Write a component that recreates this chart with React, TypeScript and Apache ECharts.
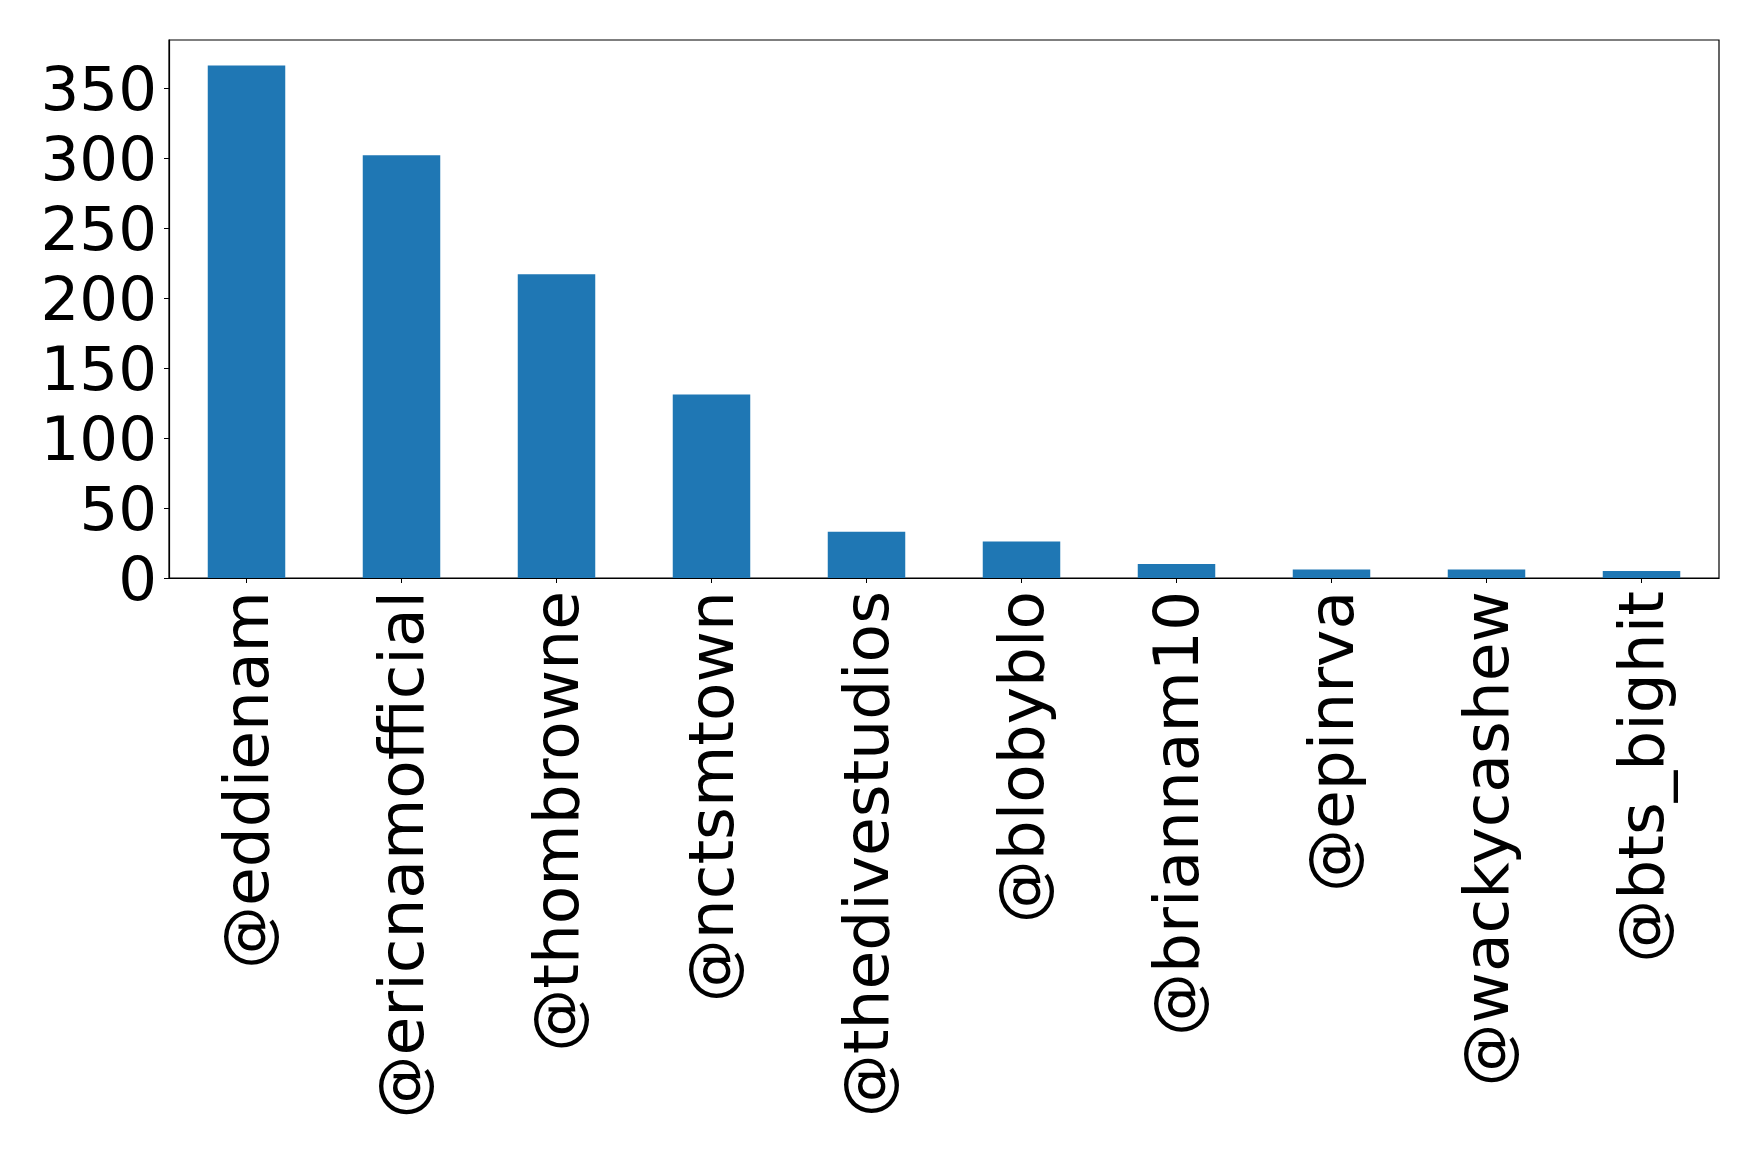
import React, { useEffect, useRef } from "react";
import * as echarts from "echarts";

const categories = [
  "@eddienam",
  "@ericnamofficial",
  "@thombrowne",
  "@nctsmtown",
  "@thedivestudios",
  "@blobyblo",
  "@briannam10",
  "@epinrva",
  "@wackycashew",
  "@bts_bighit",
];
const values = [366, 302, 217, 131, 33, 26, 10, 6, 6, 5];
const yTicks = [0, 50, 100, 150, 200, 250, 300, 350];

export default function App() {
  const ref = useRef<HTMLDivElement>(null);
  useEffect(() => {
    document.body.style.margin = "0";
    if (!ref.current) return;
    const chart = echarts.init(ref.current, null, { renderer: "svg" });
    const font = "DejaVu Sans";
    const yMax = Math.max(...values) * 1.05;
    chart.setOption({
      animation: false,
      backgroundColor: "#ffffff",
      grid: {
        left: 169,
        top: 40,
        width: 1550,
        height: 538,
        show: true,
        borderColor: "#000000",
        borderWidth: 1.2,
        backgroundColor: "transparent",
      },
      xAxis: {
        type: "category",
        data: categories,
        axisLine: { show: true, lineStyle: { color: "#000000", width: 1.2 } },
        axisTick: { show: true, alignWithLabel: true, length: 5, lineStyle: { color: "#000000" } },
        axisLabel: {
          rotate: 90,
          margin: 13,
          fontFamily: font,
          fontSize: 63,
          color: "#000000",
          interval: 0,
        },
        splitLine: { show: false },
      },
      yAxis: {
        type: "value",
        min: 0,
        max: yMax,
        interval: 50,
        axisLine: { show: true, lineStyle: { color: "#000000", width: 1.2 } },
        axisTick: { show: true, length: 5, lineStyle: { color: "#000000" }, customValues: yTicks },
        axisLabel: {
          margin: 12,
          fontFamily: font,
          fontSize: 61,
          color: "#000000",
          customValues: yTicks,
        },
        splitLine: { show: false },
      },
      series: [
        {
          type: "bar",
          data: values,
          barWidth: "50%",
          itemStyle: { color: "#1f77b4" },
        },
      ],
    });
    return () => chart.dispose();
  }, []);
  return <div ref={ref} style={{ width: 1759, height: 1152 }} />;
}
